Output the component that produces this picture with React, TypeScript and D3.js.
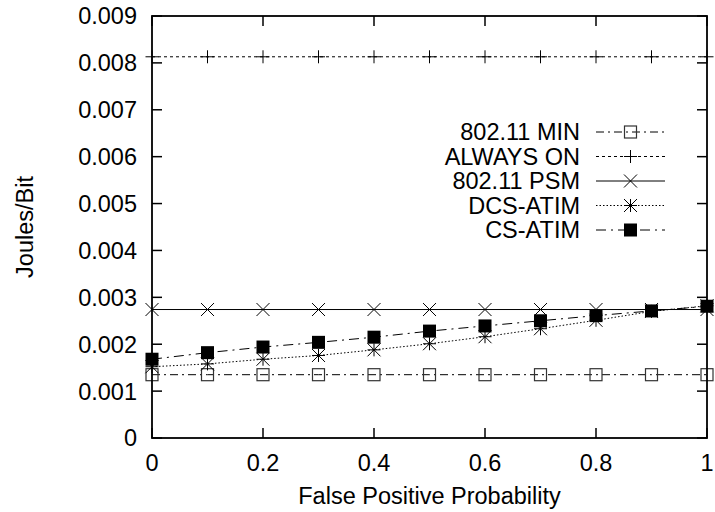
import React from "react";
import * as d3 from "d3";

const xValues = [0, 0.1, 0.2, 0.3, 0.4, 0.5, 0.6, 0.7, 0.8, 0.9, 1.0];
const min80211 = [0.00135, 0.00135, 0.00135, 0.00135, 0.00135, 0.00135, 0.00135, 0.00135, 0.00135, 0.00135, 0.00135];
const alwaysOn = [0.00813, 0.00813, 0.00813, 0.00813, 0.00813, 0.00813, 0.00813, 0.00813, 0.00813, 0.00813, 0.00813];
const psm = [0.00274, 0.00274, 0.00274, 0.00274, 0.00274, 0.00274, 0.00274, 0.00274, 0.00274, 0.00274, 0.00274];
const dcsAtim = [0.00152, 0.00158, 0.00168, 0.00176, 0.00188, 0.00201, 0.00216, 0.00233, 0.00251, 0.0027, 0.00282];
const csAtim = [0.00168, 0.00182, 0.00194, 0.00204, 0.00215, 0.00228, 0.00239, 0.0025, 0.00261, 0.00271, 0.00281];

const yTicks = [0, 0.001, 0.002, 0.003, 0.004, 0.005, 0.006, 0.007, 0.008, 0.009];
const yTickLabels = ["0", "0.001", "0.002", "0.003", "0.004", "0.005", "0.006", "0.007", "0.008", "0.009"];
const xTicks = [0, 0.2, 0.4, 0.6, 0.8, 1];
const xTickLabels = ["0", "0.2", "0.4", "0.6", "0.8", "1"];

const seriesNames = ["802.11 MIN", "ALWAYS ON", "802.11 PSM", "DCS-ATIM", "CS-ATIM"];

const W = 715, H = 512;
const L = 152, R = 707, T = 16, B = 438;
const FONT = "'Liberation Sans', Arial, Helvetica, sans-serif";
const FS = 23.5;

type MarkerKind = "openSquare" | "plus" | "cross" | "star" | "filledSquare";

function Marker({ kind, x, y }: { kind: MarkerKind; x: number; y: number }) {
  const s = 6.5;
  const stroke = "#000";
  switch (kind) {
    case "openSquare":
      return <rect x={x - 6} y={y - 6} width={12} height={12} fill="none" stroke="#333" strokeWidth={1.2} />;
    case "filledSquare":
      return <rect x={x - 6.5} y={y - 6.5} width={13} height={13} fill="#000" />;
    case "plus":
      return (
        <path d={`M${x - s},${y}H${x + s}M${x},${y - s}V${y + s}`} stroke={stroke} strokeWidth={1} fill="none" />
      );
    case "cross":
      return (
        <path d={`M${x - s},${y - s}L${x + s},${y + s}M${x - s},${y + s}L${x + s},${y - s}`} stroke={stroke} strokeWidth={1} fill="none" />
      );
    case "star":
      return (
        <path
          d={`M${x - s},${y - s}L${x + s},${y + s}M${x - s},${y + s}L${x + s},${y - s}M${x - s},${y}H${x + s}M${x},${y - s}V${y + s}`}
          stroke={stroke}
          strokeWidth={1}
          fill="none"
        />
      );
  }
  return null;
}

export default function App() {
  const x = d3.scaleLinear().domain([0, 1]).range([L, R]);
  const y = d3.scaleLinear().domain([0, 0.009]).range([B, T]);
  const line = d3
    .line<[number, number]>()
    .x((d) => x(d[0]))
    .y((d) => y(d[1]));

  const series: { name: string; vals: number[]; marker: MarkerKind; dash: string; color: string; width: number }[] = [
    { name: seriesNames[0], vals: min80211, marker: "openSquare", dash: "8,4,2,4", color: "#000", width: 1 },
    { name: seriesNames[1], vals: alwaysOn, marker: "plus", dash: "3,3", color: "#000", width: 1 },
    { name: seriesNames[2], vals: psm, marker: "cross", dash: "", color: "#000", width: 1 },
    { name: seriesNames[3], vals: dcsAtim, marker: "star", dash: "1.5,2", color: "#000", width: 1 },
    { name: seriesNames[4], vals: csAtim, marker: "filledSquare", dash: "10,5,2,5", color: "#000", width: 1 },
  ];

  const legendY0 = 132;
  const legendDy = 24.5;
  const legendTextX = 580;
  const legendLine0 = 596;
  const legendLine1 = 665;

  return (
    <svg width={W} height={H} style={{ position: "absolute", left: 0, top: 0, background: "#fff" }} fontFamily={FONT}>
      <rect x={0} y={0} width={W} height={H} fill="#fff" />
      {series.map((s, i) => (
        <g key={i}>
          <path
            d={line(xValues.map((xv, j) => [xv, s.vals[j]] as [number, number])) || ""}
            fill="none"
            stroke={s.color}
            strokeWidth={s.width}
            strokeDasharray={s.dash || undefined}
          />
          {xValues.map((xv, j) => (
            <Marker key={j} kind={s.marker} x={x(xv)} y={y(s.vals[j])} />
          ))}
        </g>
      ))}
      {yTicks.map((t, i) => (
        <g key={"y" + i}>
          <line x1={L} x2={L + 10} y1={y(t)} y2={y(t)} stroke="#000" strokeWidth={1.5} />
          <line x1={R} x2={R - 10} y1={y(t)} y2={y(t)} stroke="#000" strokeWidth={1.5} />
          <text x={137} y={y(t)} dy="0.36em" textAnchor="end" fontSize={FS}>
            {yTickLabels[i]}
          </text>
        </g>
      ))}
      {xTicks.map((t, i) => (
        <g key={"x" + i}>
          <line x1={x(t)} x2={x(t)} y1={B} y2={B - 10} stroke="#000" strokeWidth={1.5} />
          <line x1={x(t)} x2={x(t)} y1={T} y2={T + 10} stroke="#000" strokeWidth={1.5} />
          <text x={x(t)} y={463} dy="0.36em" textAnchor="middle" fontSize={FS}>
            {xTickLabels[i]}
          </text>
        </g>
      ))}
      <rect x={L} y={T} width={R - L} height={B - T} fill="none" stroke="#000" strokeWidth={1.8} />
      {series.map((s, i) => {
        const ly = legendY0 + i * legendDy;
        return (
          <g key={"l" + i}>
            <text x={legendTextX} y={ly} dy="0.36em" textAnchor="end" fontSize={FS}>
              {s.name}
            </text>
            <line x1={legendLine0} x2={legendLine1} y1={ly} y2={ly} stroke="#000" strokeWidth={1} strokeDasharray={s.dash || undefined} />
            <Marker kind={s.marker} x={(legendLine0 + legendLine1) / 2} y={ly} />
          </g>
        );
      })}
      <text x={(L + R) / 2} y={496} dy="0.36em" textAnchor="middle" fontSize={FS}>
        False Positive Probability
      </text>
      <text transform={`translate(25,${(T + B) / 2}) rotate(-90)`} dy="0.36em" textAnchor="middle" fontSize={FS}>
        Joules/Bit
      </text>
    </svg>
  );
}
